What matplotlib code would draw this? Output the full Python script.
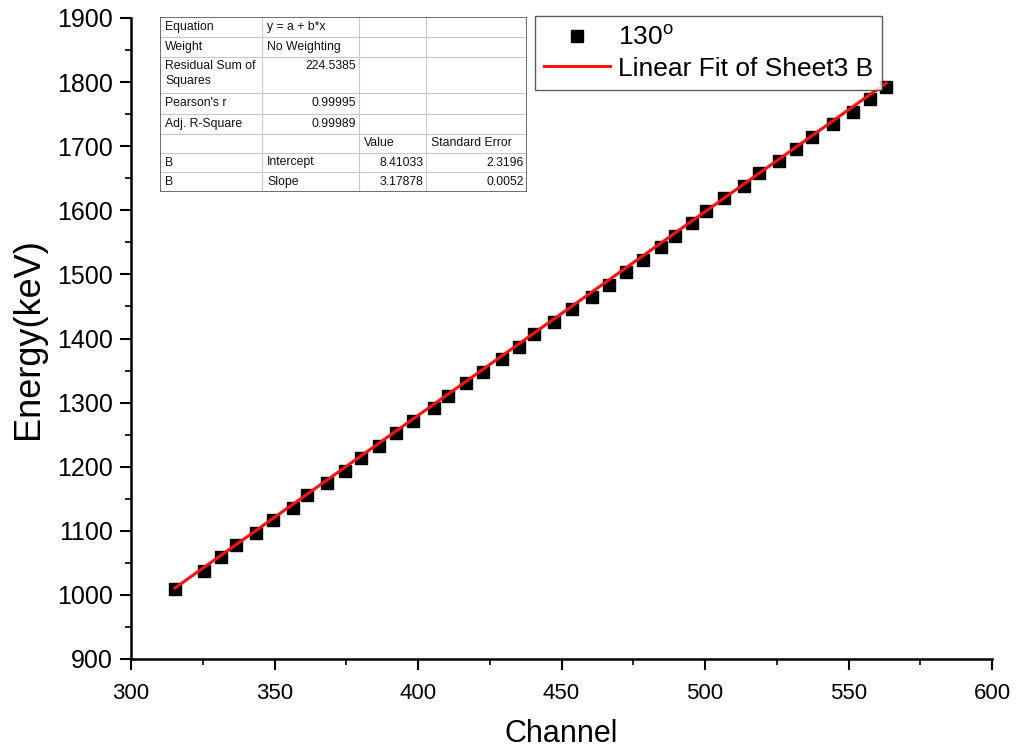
import matplotlib
matplotlib.use("Agg")
import matplotlib.pyplot as plt
from matplotlib.ticker import MultipleLocator

plt.rcParams['font.family'] = ['Liberation Sans', 'DejaVu Sans']
plt.rcParams['mathtext.fontset'] = 'custom'
plt.rcParams['mathtext.rm'] = 'Liberation Sans'

# measured peaks: channel vs. energy
channel = [315.3, 325.4, 331.3, 336.5, 343.4, 349.5, 356.6, 361.3, 368.4, 374.5,
           380.2, 386.4, 392.4, 398.3, 405.5, 410.6, 416.7, 422.5, 429.4, 435.3,
           440.4, 447.5, 453.7, 460.5, 466.6, 472.6, 478.4, 484.6, 489.4, 495.6,
           500.5, 506.7, 513.6, 518.7, 525.7, 531.6, 537.4, 544.5, 551.7, 557.4,
           563.1]
energy = [1009, 1038, 1059, 1078, 1097, 1117, 1136, 1156, 1175, 1194,
          1213, 1233, 1253, 1271, 1291, 1311, 1330, 1348, 1368, 1387,
          1407, 1426, 1446, 1464, 1484, 1503, 1523, 1542, 1560, 1580,
          1599, 1619, 1638, 1658, 1677, 1696, 1715, 1735, 1754, 1773,
          1793]

# linear fit results
intercept, intercept_err = 8.41033, 2.3196
slope, slope_err = 3.17878, 0.0052
rss = 224.5385
pearson_r = 0.99995
adj_r2 = 0.99989

fig = plt.figure(figsize=(10.18, 7.53), dpi=100)
ax = fig.add_axes([131/1018, 1-659/753, (992-131)/1018, (659-18)/753])

fit_x = [channel[0], channel[-1]]
fit_y = [intercept + slope*v for v in fit_x]

ax.plot(channel, energy, 's', color='black', ms=9, label=r'130$^{\rm o}$', zorder=3)
ax.plot(fit_x, fit_y, '-', color='#ff1010', lw=2.2, label='Linear Fit of Sheet3 B', zorder=4)

ax.set_xlim(300, 600)
ax.set_ylim(900, 1900)
ax.xaxis.set_major_locator(MultipleLocator(50))
ax.xaxis.set_minor_locator(MultipleLocator(25))
ax.yaxis.set_major_locator(MultipleLocator(100))
ax.yaxis.set_minor_locator(MultipleLocator(50))
for s in ['top', 'right']:
    ax.spines[s].set_visible(False)
for s in ['left', 'bottom']:
    ax.spines[s].set_linewidth(1.8)
ax.tick_params(which='major', direction='out', length=8, width=1.5)
ax.tick_params(which='minor', direction='out', length=4, width=1.2)
ax.tick_params(axis='y', labelsize=18, pad=5)
ax.tick_params(axis='x', labelsize=16, pad=9)

ax.set_xlabel('Channel', fontsize=22, labelpad=11)
ax.set_ylabel('Energy(keV)', fontsize=26, labelpad=8)

leg = ax.legend(loc='upper right', bbox_to_anchor=(882/1018, 1-16/753),
                bbox_transform=fig.transFigure, fontsize=19, frameon=True,
                fancybox=False, handlelength=2.5, handletextpad=0.3,
                borderpad=0.35, labelspacing=0.25, borderaxespad=0)
leg.get_frame().set_edgecolor('#333333')
leg.get_frame().set_linewidth(1.0)

# fit parameter table drawn in its own pixel-coordinate axes
tx0, ty0, tw, th = 160, 17, 367, 175
tab = fig.add_axes([tx0/1018, 1-(ty0+th)/753, tw/1018, th/753])
tab.set_xlim(0, tw)
tab.set_ylim(th, 0)
tab.axis('off')
tab.patch.set_alpha(0)

cols = [0, 102, 199, 266, 367]
rows = [0, 20, 40, 76, 97, 117, 136, 155, 175]
for y in rows[1:-1]:
    tab.plot([0, tw], [y, y], color='#c8c8c8', lw=0.8)
for x in cols[1:-1]:
    tab.plot([x, x], [0, th], color='#c8c8c8', lw=0.8)
tab.plot([0, tw, tw, 0, 0], [0, 0, th, th, 0], color='#555555', lw=1.2)

cells = [
    (0, 0, 'Equation', 'l'), (0, 1, 'y = a + b*x', 'l'),
    (1, 0, 'Weight', 'l'), (1, 1, 'No Weighting', 'l'),
    (2, 0, 'Residual Sum of\nSquares', 'l'), (2, 1, f'{rss:.4f}', 'r'),
    (3, 0, "Pearson's r", 'l'), (3, 1, f'{pearson_r:.5f}', 'r'),
    (4, 0, 'Adj. R-Square', 'l'), (4, 1, f'{adj_r2:.5f}', 'r'),
    (5, 2, 'Value', 'l'), (5, 3, 'Standard Error', 'l'),
    (6, 0, 'B', 'l'), (6, 1, 'Intercept', 'l'),
    (6, 2, f'{intercept:.5f}', 'r'), (6, 3, f'{intercept_err:.4f}', 'r'),
    (7, 0, 'B', 'l'), (7, 1, 'Slope', 'l'),
    (7, 2, f'{slope:.5f}', 'r'), (7, 3, f'{slope_err:.4f}', 'r'),
]
for r, c, txt, al in cells:
    if r == 2:
        y, va = rows[r] + 3, 'top'
    else:
        y, va = (rows[r] + rows[r+1]) / 2, 'center'
    x = cols[c] + 5 if al == 'l' else cols[c+1] - 3
    tab.text(x, y, txt, ha='left' if al == 'l' else 'right', va=va,
             fontsize=8.8, linespacing=1.3, color='#111111')

fig.savefig('out.png', dpi=100)
